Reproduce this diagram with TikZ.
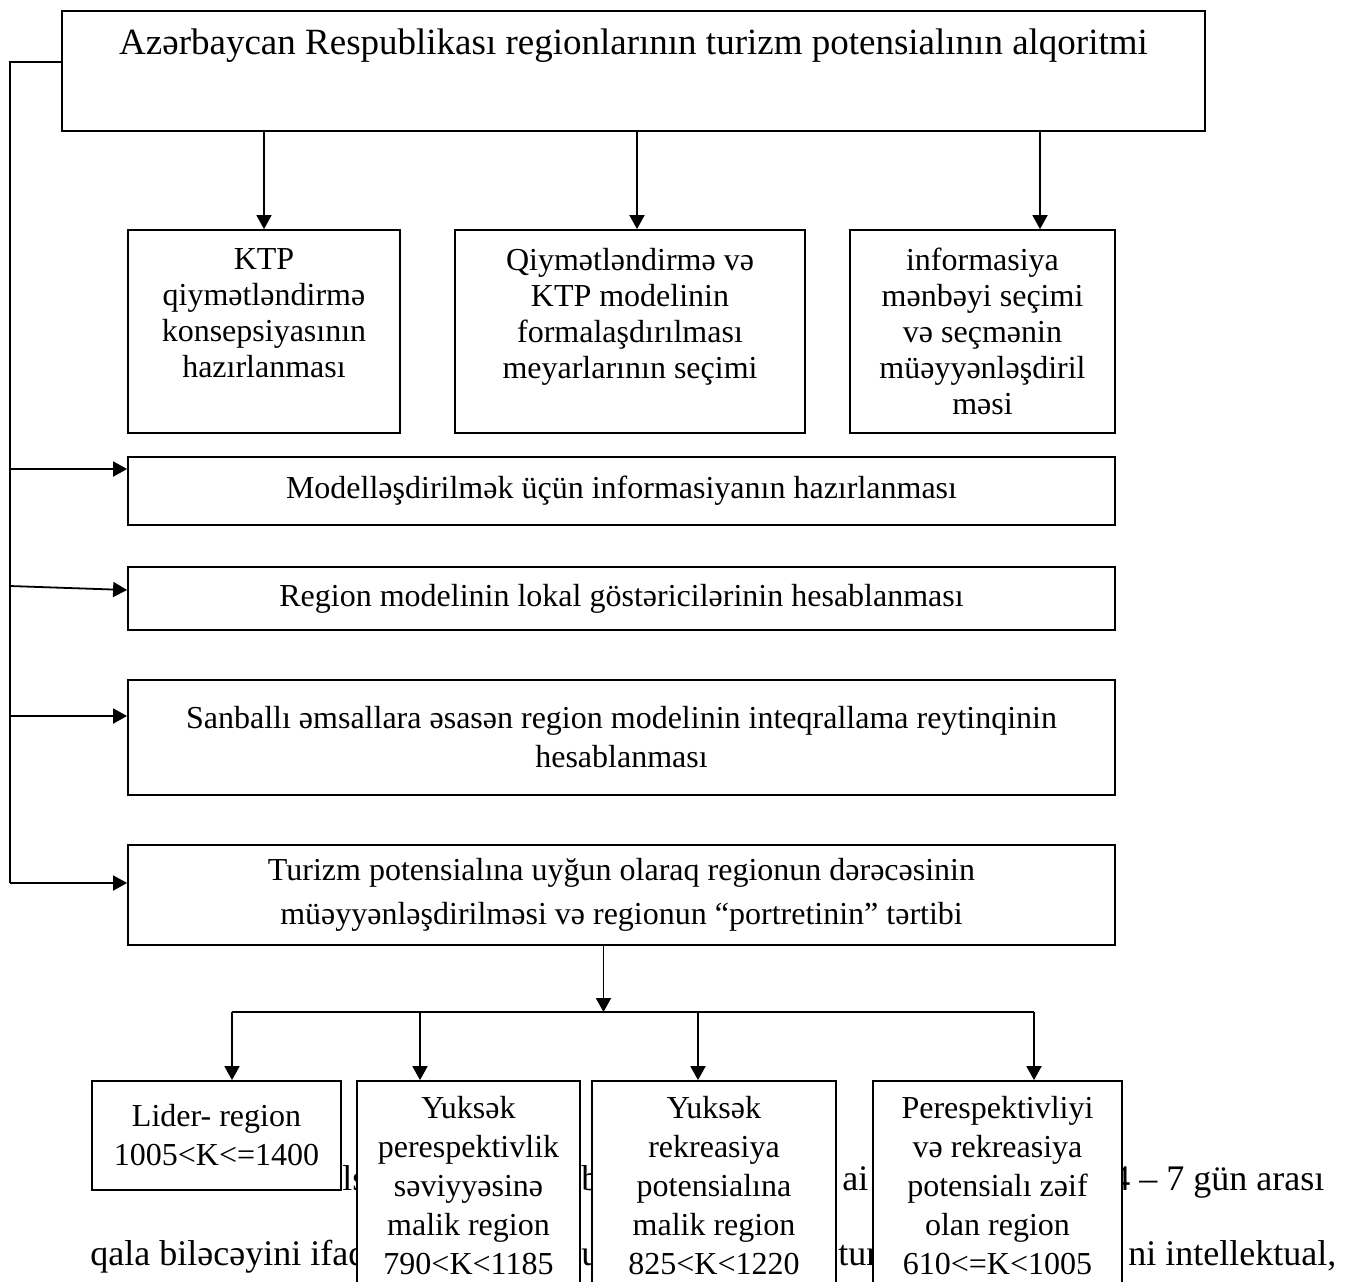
\documentclass[tikz,border=0pt]{standalone}
\usepackage{fontspec}
\setmainfont{Liberation Serif}
\usetikzlibrary{arrows.meta}

\begin{document}
\begin{tikzpicture}[x=0.5pt,y=-0.5pt,
    box/.style={draw, fill=white, line width=0.9pt, align=center, inner sep=2pt, font=\fontsize{16}{18}\selectfont},
    arr/.style={line width=0.9pt, -{Triangle[length=7pt,width=7.5pt]}},
    ln/.style={line width=0.9pt},
    bg/.style={anchor=base west, inner sep=0pt, font=\fontsize{18}{20}\selectfont}]
    \useasboundingbox (0,0) rectangle (1369,1281);

    \node[bg] (p1a) at (324,1190) {olsa};
    \node[bg] (p1b) at (581,1190) {bu};
    \node[bg] (p1c) at (842,1190) {ai};
    \node[bg] (p1d) at (1112,1190) {4 – 7 gün arası};
    \node[bg] (p2a) at (90,1265) {qala biləcəyini ifadə};
    \node[bg] (p2b) at (581,1265) {u};
    \node[bg] (p2c) at (838,1265) {tur};
    \node[bg] (p2d) at (1128,1265) {ni intellektual,};

    \node[box, minimum width=571.5pt, minimum height=60pt, font=\fontsize{18.5}{22}\selectfont] (title) at (633.5,71)
        {Azərbaycan Respublikası regionlarının turizm potensialının alqoritmi\\[1pt]\strut};
    \node[box, minimum width=136pt, minimum height=101.5pt] (kpt1) at (264,331.5)
        {KTP\\qiymətləndirmə\\konsepsiyasının\\hazırlanması\\\mbox{}};
    \node[box, minimum width=175pt, minimum height=101.5pt] (kpt2) at (630,331.5)
        {Qiymətləndirmə və\\KTP modelinin\\formalaşdırılması\\meyarlarının seçimi\\\mbox{}};
    \node[box, minimum width=132.5pt, minimum height=101.5pt] (kpt3) at (982.5,331.5)
        {informasiya\\mənbəyi seçimi\\və seçmənin\\müəyyənləşdiril\\məsi};
    \node[box, minimum width=493.5pt, minimum height=34pt] (modell) at (621.5,491)
        {Modelləşdirilmək üçün informasiyanın hazırlanması};
    \node[box, minimum width=493.5pt, minimum height=31.5pt] (region) at (621.5,598.5)
        {Region modelinin lokal göstəricilərinin hesablanması};
    \node[box, minimum width=493.5pt, minimum height=57.5pt, font=\fontsize{16}{19.5}\selectfont] (sanbal) at (621.5,737.5)
        {Sanballı əmsallara əsasən region modelinin inteqrallama reytinqinin\\hesablanması};
    \node[box, minimum width=493.5pt, minimum height=50pt, font=\fontsize{16}{22}\selectfont] (turizm) at (621.5,895)
        {Turizm potensialına uyğun olaraq regionun dərəcəsinin\\müəyyənləşdirilməsi və regionun “portretinin” tərtibi};

    \node[box, minimum width=124.5pt, minimum height=54.5pt, font=\fontsize{16}{19.5}\selectfont] (lider) at (216.5,1135.5)
        {Lider- region\\1005<K<=1400};
    \node[box, minimum width=111.5pt, minimum height=105pt, font=\fontsize{16}{19.5}\selectfont] (yuk1) at (468.5,1186)
        {Yuksək\\perespektivlik\\səviyyəsinə\\malik region\\790<K<1185};
    \node[box, minimum width=122pt, minimum height=105pt, font=\fontsize{16}{19.5}\selectfont] (yuk2) at (714,1186)
        {Yuksək\\rekreasiya\\potensialına\\malik region\\825<K<1220};
    \node[box, minimum width=124.5pt, minimum height=105pt, font=\fontsize{16}{19.5}\selectfont] (zeif) at (997.5,1186)
        {Perespektivliyi\\və rekreasiya\\potensialı zəif\\olan region\\610<=K<1005};

    \coordinate (a2) at ([xshift=3.5pt]kpt2.north);
    \coordinate (a3) at ([xshift=28.75pt]kpt3.north);
    \draw[arr] (kpt1.north |- title.south) -- (kpt1.north);
    \draw[arr] (a2 |- title.south) -- (a2);
    \draw[arr] (a3 |- title.south) -- (a3);

    \coordinate (railtop) at (10,62);
    \coordinate (r1) at ([yshift=11pt]modell.west);
    \coordinate (r2) at ([yshift=4.25pt]region.west);
    \coordinate (r3) at ([yshift=10.75pt]sanbal.west);
    \coordinate (r4) at ([yshift=6pt]turizm.west);
    \draw[ln] (title.west |- railtop) -- (railtop) -- (railtop |- r4);
    \foreach \r in {r1,r3,r4}
        \draw[arr] (railtop |- \r) -- (\r);
    \path (railtop |- r2) ++(0,-4) coordinate (r2s);
    \draw[arr] (r2s) -- (r2);

    \coordinate (t0) at ([xshift=-9pt]turizm.south);
    \coordinate (bus) at (0,1012);
    \coordinate (b1) at ([xshift=7.75pt]lider.north);
    \coordinate (b2) at ([xshift=-24.25pt]yuk1.north);
    \coordinate (b3) at ([xshift=-8pt]yuk2.north);
    \coordinate (b4) at ([xshift=18.25pt]zeif.north);
    \draw[arr] (t0) -- (t0 |- bus);
    \draw[ln] (b1 |- bus) -- (b4 |- bus);
    \foreach \b in {b1,b2,b3,b4}
        \draw[arr] (\b |- bus) -- (\b);
\end{tikzpicture}
\end{document}
